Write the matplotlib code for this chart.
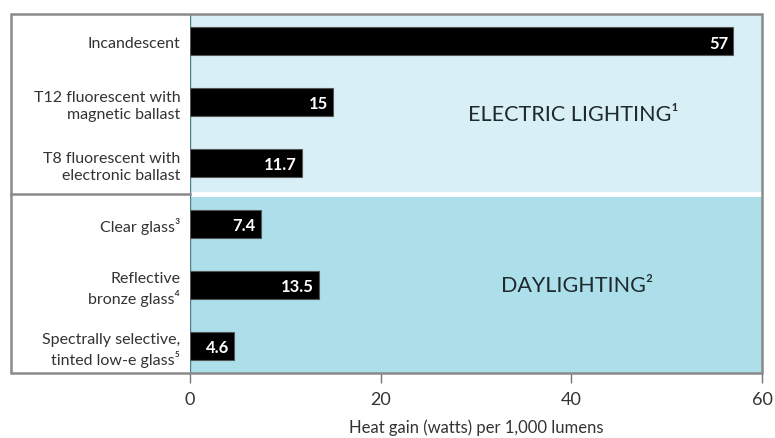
import matplotlib.pyplot as plt
from matplotlib.transforms import blended_transform_factory

plt.rcParams['font.family'] = ['Lato', 'DejaVu Sans']

# heat gain per 1,000 lumens, top row first
sources = ['Incandescent',
           'T12 fluorescent with\nmagnetic ballast',
           'T8 fluorescent with\nelectronic ballast',
           'Clear glass³',
           'Reflective\nbronze glass⁴',
           'Spectrally selective,\ntinted low-e glass⁵']
heat_gain = [57, 15, 11.7, 7.4, 13.5, 4.6]
value_text = ['57', '15', '11.7', '7.4', '13.5', '4.6']
groups = ['ELECTRIC LIGHTING¹', 'DAYLIGHTING²']
xticks = [0, 20, 40, 60]

fig = plt.figure(figsize=(7.75, 4.39), dpi=100)
ax = fig.add_axes([190 / 775, 65 / 439, 572 / 775, 359 / 439])

rows = list(range(len(sources)))
ax.set_xlim(0, 60)
ax.set_ylim(5.45, -0.45)

# two shaded bands, electric on top and daylight below
ax.axhspan(-0.45, 2.5, color='#d8eff5', zorder=0)
ax.axhspan(2.5, 5.45, color='#acdfea', zorder=0)
ax.axhline(2.5, color='white', lw=3.5, zorder=1)

ax.barh(rows, heat_gain, height=0.46, color='black', edgecolor='#555555',
        linewidth=0.8, zorder=3)
for y, v, t in zip(rows, heat_gain, value_text):
    ax.text(v - 0.5, y + 0.02, t, ha='right', va='center', color='white',
            fontsize=12, fontweight='bold', zorder=4)

ax.text(40.2, 1.2, groups[0], ha='center', va='center', fontsize=15.5, color='#1f2a2e')
ax.text(40.6, 4.0, groups[1], ha='center', va='center', fontsize=15.5, color='#1f2a2e')

# category labels sit in the white column to the left
ax.set_yticks(rows)
ax.set_yticklabels(sources, fontsize=11.5, color='#333333', linespacing=1.3)
ax.tick_params(axis='y', length=0, pad=7)

ax.set_xticks(xticks)
ax.set_xticklabels([str(t) for t in xticks], fontsize=13, color='#333333')
ax.tick_params(axis='x', direction='out', length=7, width=1, color='#777777', pad=6)
ax.set_xlabel('Heat gain (watts) per 1,000 lumens', fontsize=12, color='#333333',
              labelpad=8)

for s in ax.spines.values():
    s.set_visible(False)
ax.axvline(0, color='#4f7f8a', lw=1, zorder=2)

# outer frame around label column and plot area
left = (11 - 190) / 572
frame = plt.Rectangle((left, 0), 1 - left, 1, transform=ax.transAxes, fill=False,
                      edgecolor='#8a8a8a', lw=1.8, clip_on=False, zorder=5)
ax.add_patch(frame)
trans = blended_transform_factory(ax.transAxes, ax.transData)
ax.plot([left, 0], [2.5, 2.5], color='#8a8a8a', lw=1.8, transform=trans, clip_on=False)

fig.savefig('out.png', dpi=100, facecolor='white')
